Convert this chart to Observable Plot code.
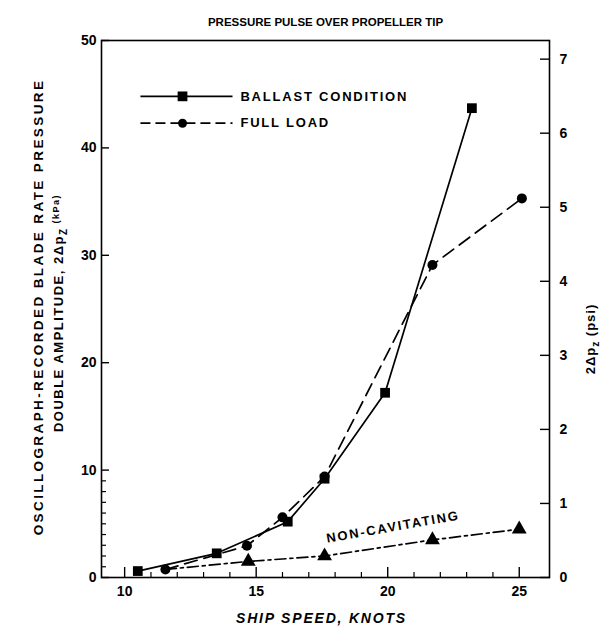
<!DOCTYPE html>
<html><head><meta charset="utf-8">
<script src="https://cdn.jsdelivr.net/npm/d3@7"></script>
<script src="https://cdn.jsdelivr.net/npm/@observablehq/plot@0.6"></script>
<style>body{margin:0;background:#fff}</style>
</head><body><div id="chart"></div>
<script>
// ---- data ----
const ballastSpeed = [10.5, 13.5, 16.2, 17.6, 19.9, 23.2];
const ballastPress = [0.6, 2.25, 5.2, 9.2, 17.2, 43.7];
const fullSpeed = [11.55, 14.65, 16.0, 17.6, 21.7, 25.1];
const fullPress = [0.75, 2.95, 5.6, 9.4, 29.1, 35.3];
const nonCavSpeed = [11.55, 14.7, 17.6, 21.7, 25.0];
const nonCavPress = [0.75, 1.5, 2.0, 3.5, 4.5];
const nonCavMarked = [false, true, true, true, true];

const kpaTicks = [0, 10, 20, 30, 40, 50];
const kpaMinor = [1, 2, 3, 4, 5, 6, 7, 8, 9];
const psiTicks = [0, 1, 2, 3, 4, 5, 6, 7];
const knotTicks = [10, 15, 20, 25];
const knotMinor = [11, 12, 13, 14, 16, 17, 18, 19, 21, 22, 23, 24];
const KPA_PER_PSI = 6.895;

const titleText = "PRESSURE PULSE OVER PROPELLER TIP";
const xLabel = "SHIP SPEED, KNOTS";
const yLabel1 = "OSCILLOGRAPH-RECORDED BLADE RATE PRESSURE";
const yLabel2 = "DOUBLE AMPLITUDE, 2Δp";
const y2Label = "2Δp";
const legendBallast = "BALLAST CONDITION";
const legendFull = "FULL LOAD";
const nonCavLabel = "NON-CAVITATING";

const ballast = ballastSpeed.map((x, i) => ({x, y: ballastPress[i]}));
const full = fullSpeed.map((x, i) => ({x, y: fullPress[i]}));
const nonCav = nonCavSpeed.map((x, i) => ({x, y: nonCavPress[i], m: nonCavMarked[i]}));

const font = "'Liberation Sans', Arial, sans-serif";
const noText = () => "";

const chart = Plot.plot({
  width: 607, height: 634,
  marginLeft: 101, marginRight: 58, marginTop: 40, marginBottom: 57,
  style: {fontFamily: font, fontSize: "13px", fontWeight: "bold", color: "black", background: "white"},
  x: {domain: [9.12, 26.15]},
  y: {domain: [0, 50]},
  marks: [
    Plot.frame({stroke: "black", strokeWidth: 1.6}),
    // bottom axis
    Plot.axisX({ticks: knotTicks, tickSize: -10, tickPadding: 19, label: null, fontSize: 14, strokeWidth: 1.4}),
    Plot.axisX({ticks: knotMinor, tickSize: -5, tickFormat: noText, label: null, strokeWidth: 1.2}),
    // left axis (kPa)
    Plot.axisY({ticks: kpaTicks, tickSize: -8, tickPadding: 13, label: null, fontSize: 14, strokeWidth: 1.4}),
    Plot.axisY({ticks: kpaMinor, tickSize: -5, tickFormat: noText, label: null, strokeWidth: 1.2}),
    // right axis (psi)
    Plot.axisY({anchor: "right", ticks: psiTicks.map(p => p * KPA_PER_PSI), tickFormat: d => String(Math.round(d / KPA_PER_PSI)),
      tickSize: -10, tickPadding: 20, label: null, fontSize: 14, strokeWidth: 1.4}),
    // series
    Plot.line(nonCav, {x: "x", y: "y", stroke: "black", strokeWidth: 1.7, strokeDasharray: "11,4,3,4"}),
    Plot.dot(nonCav.filter(d => d.m), {x: "x", y: "y", symbol: "triangle", r: 5.5, fill: "black"}),
    Plot.line(full, {x: "x", y: "y", stroke: "black", strokeWidth: 1.7, strokeDasharray: "13,7"}),
    Plot.dot(full, {x: "x", y: "y", symbol: "circle", r: 5, fill: "black"}),
    Plot.line(ballast, {x: "x", y: "y", stroke: "black", strokeWidth: 1.7}),
    Plot.dot(ballast, {x: "x", y: "y", symbol: "square", r: 5.5, fill: "black"}),
    // legend
    Plot.link([0], {x1: 10.6, x2: 14.1, y1: 44.8, y2: 44.8, stroke: "black", strokeWidth: 1.7}),
    Plot.dot([0], {x: 12.2, y: 44.8, symbol: "square", r: 5.5, fill: "black"}),
    Plot.text([legendBallast], {x: 14.4, y: 44.8, text: d => d, textAnchor: "start", fontSize: 13}),
    Plot.link([0], {x1: 10.6, x2: 14.1, y1: 42.3, y2: 42.3, stroke: "black", strokeWidth: 1.7, strokeDasharray: "10,5"}),
    Plot.dot([0], {x: 12.2, y: 42.3, symbol: "circle", r: 4.5, fill: "black"}),
    Plot.text([legendFull], {x: 14.4, y: 42.3, text: d => d, textAnchor: "start", fontSize: 13}),
    // non-cavitating label
    Plot.text([nonCavLabel], {x: 20.2, y: 4.7, text: d => d, rotate: -10, fontSize: 13}),
    // titles
    Plot.text([titleText], {frameAnchor: "top", dy: -23, text: d => d, fontSize: 11.5, fontWeight: "bold"}),
    Plot.text([xLabel], {frameAnchor: "bottom", dy: 45, dx: -4, text: d => d, fontSize: 14, fontStyle: "italic"}),
    Plot.text([yLabel1], {frameAnchor: "left", textAnchor: "middle", dx: -63, dy: -2, rotate: -90, text: d => d, fontSize: 13.5}),
    Plot.text([yLabel2], {frameAnchor: "left", textAnchor: "middle", dx: -43, dy: 4, rotate: -90, text: d => d, fontSize: 13}),
    Plot.text([y2Label], {frameAnchor: "right", textAnchor: "middle", dx: 41, dy: 30, rotate: -90, text: d => d, fontSize: 13})
  ]
});

const NS = "http://www.w3.org/2000/svg";
const spacing = {
  [legendBallast]: "1.8",
  [legendFull]: "1.8",
  [nonCavLabel]: "1.8",
  [xLabel]: "1.8",
  [yLabel1]: "2.4",
  [yLabel2]: "1.5",
  [y2Label]: "1"
};
chart.querySelectorAll("text").forEach(t => {
  const s = t.textContent;
  if (spacing[s]) t.setAttribute("letter-spacing", spacing[s]);
  if (s === yLabel2 || s === y2Label) {
    const sub = document.createElementNS(NS, "tspan");
    sub.setAttribute("dy", "4");
    sub.setAttribute("font-size", "10");
    sub.textContent = s === yLabel2 ? "Z" : "z";
    const u = document.createElementNS(NS, "tspan");
    u.setAttribute("dy", s === yLabel2 ? "-8" : "-4");
    u.setAttribute("font-size", s === yLabel2 ? "9" : "13");
    u.textContent = s === yLabel2 ? " (kPa)" : " (psi)";
    t.appendChild(sub);
    t.appendChild(u);
  }
});

document.getElementById("chart").appendChild(chart);
</script>
</body></html>
